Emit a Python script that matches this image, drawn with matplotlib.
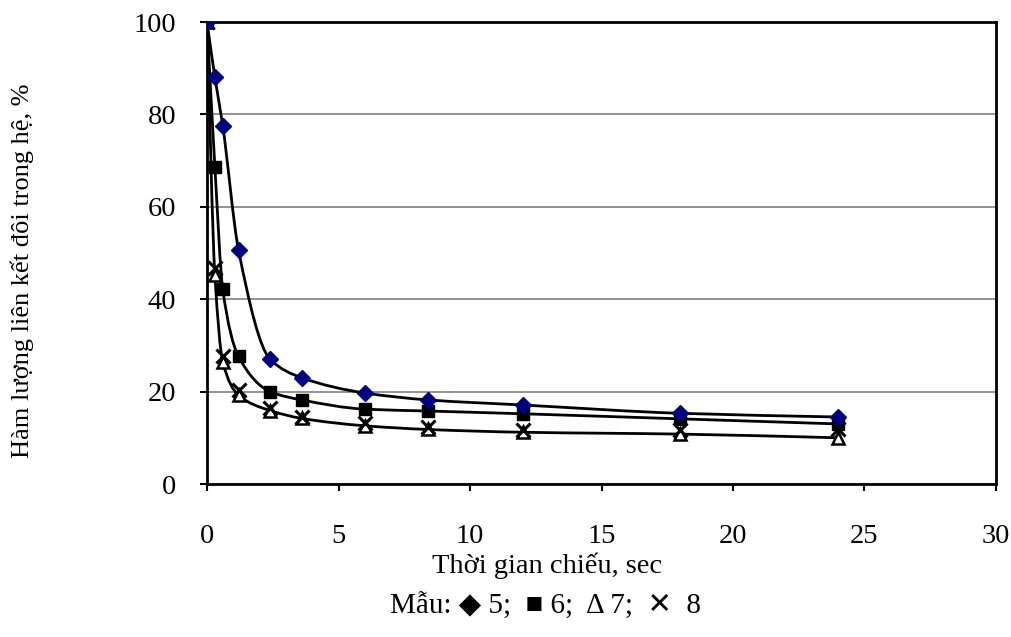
import numpy as np
import matplotlib
matplotlib.use('Agg')
import matplotlib.pyplot as plt
from matplotlib.path import Path
from matplotlib.patches import PathPatch

plt.rcParams['font.family'] = ['Liberation Serif', 'DejaVu Sans']

# irradiation time, sec
t = [0, 0.3, 0.6, 1.2, 2.4, 3.6, 6, 8.4, 12, 18, 24]
# double bond content, %
s5 = [100, 88.0, 77.5, 50.6, 27.0, 23.0, 19.7, 18.2, 17.1, 15.3, 14.5]
s6 = [100, 68.6, 42.1, 27.6, 20.0, 18.2, 16.2, 15.8, 15.2, 14.1, 13.0]
s7 = [100, 45.2, 26.4, 19.2, 15.9, 14.2, 12.6, 11.8, 11.2, 10.8, 10.0]
s8 = [100, 46.7, 27.6, 20.3, 16.4, 14.6, 13.2, 12.4, 11.6, 11.6, 12.0]


def smooth_path(x, y):
    # monotone cubic (Fritsch-Carlson slopes) drawn as Bezier segments
    x = np.asarray(x, float)
    y = np.asarray(y, float)
    h = np.diff(x)
    d = np.diff(y) / h
    n = len(x)
    m = np.zeros(n)
    for k in range(1, n - 1):
        if d[k - 1] * d[k] > 0:
            w1 = 2 * h[k] + h[k - 1]
            w2 = h[k] + 2 * h[k - 1]
            m[k] = (w1 + w2) / (w1 / d[k - 1] + w2 / d[k])
    m[0] = d[0]
    m[-1] = d[-1]
    verts = [(x[0], y[0])]
    codes = [Path.MOVETO]
    for i in range(n - 1):
        verts += [(x[i] + h[i] / 3, y[i] + m[i] * h[i] / 3),
                  (x[i + 1] - h[i] / 3, y[i + 1] - m[i + 1] * h[i] / 3),
                  (x[i + 1], y[i + 1])]
        codes += [Path.CURVE4] * 3
    return Path(verts, codes)


fig = plt.figure(figsize=(10.11, 6.37), dpi=100)
ax = fig.add_axes([207/1011, 1 - 484/637, (996-207)/1011, (484-22)/637])

for ys in (s5, s6, s7):
    ax.add_patch(PathPatch(smooth_path(t, ys), facecolor='none',
                           edgecolor='black', lw=2.0, zorder=2))

ax.plot(t, s7, ls='none', marker='^', ms=9, mfc='white', mec='black', mew=1.8, zorder=3)
ax.plot(t, s8, ls='none', marker='x', ms=10, mec='black', mew=2.2, zorder=4)
ax.plot(t, s6, ls='none', marker='s', ms=9, color='black', zorder=5)
ax.plot(t, s5, ls='none', marker='D', ms=8, color='#000080', zorder=6)

ax.set_xlim(0, 30)
ax.set_ylim(0, 100)
ax.set_xticks(range(0, 31, 5))
ax.set_yticks(range(0, 101, 20))
ax.yaxis.grid(True, color='#808080', lw=1.2)
ax.set_axisbelow(True)
for sp in ax.spines.values():
    sp.set_linewidth(2)
    sp.set_color('black')
ax.tick_params(direction='out', length=5, width=1.5, labelsize=20.5)
ax.tick_params(axis='x', pad=24)
ax.tick_params(axis='y', pad=17)

fig.text(547/1011, 1 - 566/637, 'Thời gian chiếu, sec', ha='center', va='center', fontsize=20.5)
fig.text(546/1011, 1 - 606/637, 'Mẫu: ◆ 5;  ■ 6;  Δ 7;  ✕  8', ha='center', va='center', fontsize=21)
fig.text(22/1011, 1 - 271/637, 'Hàm lượng liên kết đôi trong hệ, %', rotation=90,
         ha='center', va='center', fontsize=19)

fig.savefig('out.png', dpi=100)
